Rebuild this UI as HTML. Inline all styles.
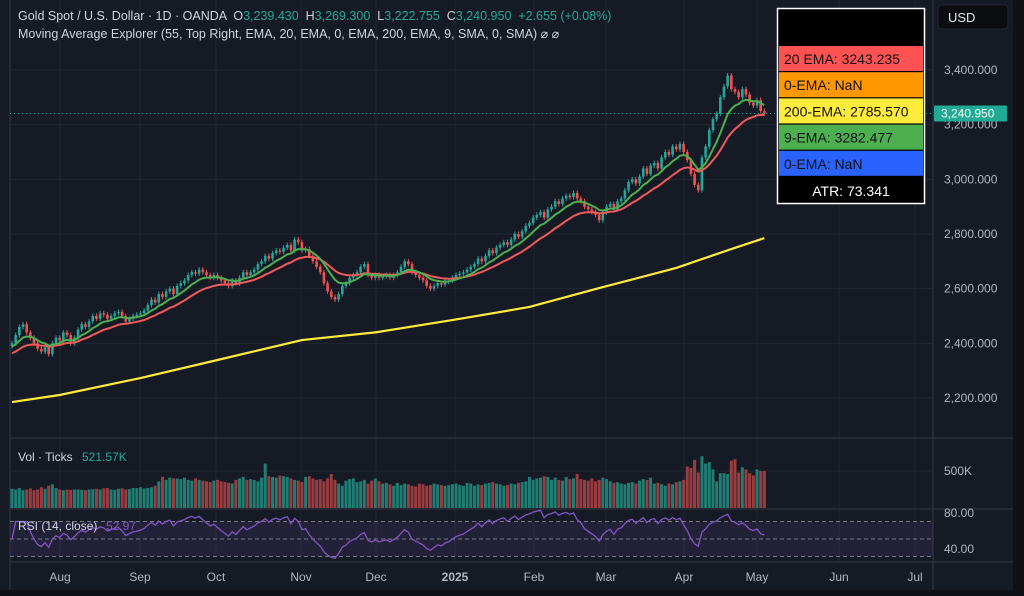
<!DOCTYPE html>
<html><head><meta charset="utf-8">
<style>
html,body{margin:0;padding:0;background:#0f1117;}
body{width:1024px;height:596px;overflow:hidden;font-family:"Liberation Sans",sans-serif;}
svg{display:block}
</style></head>
<body>
<svg id="chart" width="1024" height="596" xmlns="http://www.w3.org/2000/svg">
</svg>
<script>
const closes=[2400,2430,2460,2470,2440,2420,2400,2380,2370,2385,2360,2400,2420,
2410,2440,2430,2400,2420,2450,2470,2460,2480,2500,2490,2510,2505,2490,2500,2510,2515,2500,2480,2490,2500,2505,
2510,2520,2540,2560,2550,2580,2570,2590,2600,2580,2610,2620,2630,2650,2660,2655,2670,2660,2650,2640,2650,
2640,2630,2620,2610,2630,2620,2640,2660,2650,2660,2670,2690,2700,2720,2710,2730,2740,2735,2750,2760,2740,2780,2770,
2740,2745,2720,2700,2680,2660,2620,2590,2570,2560,2580,2610,2620,2640,2650,2660,2680,2690,2650,2640,
2650,2640,2645,2650,2640,2650,2660,2680,2700,2690,2660,2650,2640,2630,2610,2600,2610,2620,2615,2625,2630,
2640,2650,2655,2660,2670,2680,2690,2710,2700,2720,2740,2730,2750,2760,2770,2760,2780,2800,2790,2810,2830,
2840,2860,2870,2880,2860,2890,2900,2920,2910,2930,2940,2935,2950,2930,2920,2900,2890,2880,2870,
2850,2880,2900,2910,2890,2920,2930,2960,2990,3000,2985,3010,3040,3020,3050,3060,3040,3080,3100,3090,3120,
3110,3130,3100,3070,3020,2980,2960,3080,3120,3180,3220,3240,3300,3340,3380,3330,3320,3300,3330,3310,3280,
3270,3290,3250,3240.95];
const volumes=[260,250,270,240,250,265,240,250,280,260,300,320,270,
250,240,250,245,250,250,245,240,250,255,260,250,265,270,250,245,260,265,250,255,270,270,
280,265,270,280,300,360,420,380,410,400,400,390,410,380,370,400,380,370,360,350,370,
380,360,350,340,330,380,400,420,380,390,380,360,410,600,430,420,410,440,430,420,400,380,370,
350,420,430,400,380,390,360,400,460,380,330,300,370,390,400,350,360,380,330,370,
400,360,330,340,320,300,340,310,330,320,300,290,330,320,300,310,330,320,310,300,310,
320,330,310,300,340,330,300,320,310,330,340,350,330,320,300,310,330,320,340,350,360,
420,380,400,410,430,420,380,410,380,370,420,390,400,460,390,380,370,400,360,
380,410,390,360,340,350,330,320,340,350,330,370,390,380,410,330,340,320,300,330,320,
350,360,380,560,540,650,480,700,600,620,520,360,470,470,460,640,660,480,550,520,470,
440,520,500,500];
const timeLabels=["Aug","Sep","Oct","Nov","Dec","2025","Feb","Mar","Apr","May","Jun","Jul"];
const timeLabelX=[60,140,216,301,376,455,534,606,684,757,839,915];
const priceTicks=[3400,3200,3000,2800,2600,2400,2200];
const ema200Bars=[0,13,35,56,79,99,120,141,160,181,196,205];
const ema200Vals=[2185,2211,2273,2339,2412,2440,2485,2533,2602,2676,2745,2785];

const NS="http://www.w3.org/2000/svg";
const svg=document.getElementById('chart');
function el(tag,attrs,parent){const e=document.createElementNS(NS,tag);for(const k in attrs)e.setAttribute(k,attrs[k]);(parent||svg).appendChild(e);return e;}
const xBar=i=>12+i*3.67;
const yP=p=>70+(3400-p)*0.27333;
const yV=v=>508-v*37/500;
const yR=r=>539-(r-50)*0.875;
const fmt=n=>n.toLocaleString('en-US',{minimumFractionDigits:3,maximumFractionDigits:3});

let r=el('rect',{x:0,y:0,width:1013,height:590,fill:'#161a25'});

const grid=el('g',{stroke:'#222634','stroke-width':1});

priceTicks.forEach(p=>el('line',{x1:10,x2:933,y1:yP(p),y2:yP(p)},grid));
el('line',{x1:10,x2:933,y1:yV(500),y2:yV(500)},grid);
timeLabelX.forEach(x=>el('line',{x1:x,x2:x,y1:0,y2:562},grid));
const sep=el('g',{stroke:'#2a2e39','stroke-width':1.5});

el('line',{x1:10,x2:1013,y1:438,y2:438},sep);
el('line',{x1:10,x2:1013,y1:509,y2:509},sep);
el('line',{x1:10,x2:1013,y1:562,y2:562},sep);
el('line',{x1:933,x2:933,y1:0,y2:590},sep);
el('line',{x1:10,x2:10,y1:0,y2:590},sep);

const e2=el('polyline',{fill:'none',stroke:'#ffeb3b','stroke-width':2.2,points:ema200Bars.map((b,i)=>xBar(b)+','+yP(ema200Vals[i])).join(' ')});


const cg=el('g',{});

closes.forEach((c,i)=>{
  const o=i?closes[i-1]:c-10;
  const up=c>=o;const col=up?'#26a69a':'#ef5350';
  const hi=Math.max(o,c)+9, lo=Math.min(o,c)-9;
  const x=xBar(i);
  const w=el('line',{x1:x,x2:x,y1:yP(hi),y2:yP(lo),stroke:col,'stroke-width':1},cg);
  
  const top=yP(Math.max(o,c)),h=Math.max(1,yP(Math.min(o,c))-top);
  const b=el('rect',{x:x-1.3,y:top,width:2.6,height:h,fill:col},cg);
  
});
function ema(n,seed){let e=seed;return closes.map(c=>{e=e+(c-e)*2/(n+1);return e;});}
const e20=ema(20,2360),e9=ema(9,2385);
const l20=el('polyline',{fill:'none',stroke:'#f05a5a','stroke-width':2,points:e20.map((v,i)=>xBar(i)+','+yP(v)).join(' ')});

const l9=el('polyline',{fill:'none',stroke:'#4caf50','stroke-width':2,points:e9.map((v,i)=>xBar(i)+','+yP(v)).join(' ')});


const last=closes[closes.length-1];
const lp=el('line',{x1:10,x2:933,y1:yP(last),y2:yP(last),stroke:'#26a69a','stroke-width':1,'stroke-dasharray':'1 3'});


const vg=el('g',{});

volumes.forEach((v,i)=>{
  const o=i?closes[i-1]:closes[0]-10;const up=closes[i]>=o;
  const b=el('rect',{x:xBar(i)-1.5,y:yV(v),width:3,height:508-yV(v),fill:up?'#1f7d73':'#9a3d40'},vg);
  
});

const band=el('rect',{x:10,y:yR(70),width:923,height:yR(30)-yR(70),fill:'rgba(126,87,194,0.12)'});

[70,50,30].forEach(v=>{const d=el('line',{x1:10,x2:933,y1:yR(v),y2:yR(v),stroke:'#787b86','stroke-width':1,'stroke-dasharray':'4 3'});
});
let ag=0,al=0;const rsi=[];
closes.forEach((c,i)=>{if(!i){rsi.push(50);return;}const d=c-closes[i-1];const g=Math.max(d,0),l=Math.max(-d,0);
 if(i<=14){ag+=g/14;al+=l/14;}else{ag=(ag*13+g)/14;al=(al*13+l)/14;}
 rsi.push(al===0?70:100-100/(1+ag/al));});
const rl=el('polyline',{fill:'none',stroke:'#7e57c2','stroke-width':1.3,points:rsi.map((v,i)=>xBar(i)+','+yR(Math.max(25,Math.min(85,v)))).join(' ')});


function txt(x,y,s,attrs,name){const t=el('text',Object.assign({x:x,y:y,'font-size':12,fill:'#b2b5be'},attrs||{}));t.textContent=s;return t;}
priceTicks.forEach(p=>txt(944,yP(p)+4,p.toLocaleString('en-US')+'.000',{},'price-tick-label'));
txt(944,yV(500)+4,'500K',{},'volume-tick-label');
txt(944,517,'80.00',{},'rsi-tick-label');
txt(944,553,'40.00',{},'rsi-tick-label');
const pl=el('rect',{x:934,y:yP(last)-8,width:73,height:16,fill:'#22ab94',rx:1});

txt(941,yP(last)+4,fmt(last),{fill:'#ffffff'},'last-price-text');
const usd=el('rect',{x:938,y:5,width:70,height:24,rx:4,fill:'#0b0c10',stroke:'#23262f'});

txt(948,22,'USD',{fill:'#e6e6e6','font-size':13},'currency-text');
timeLabels.forEach((s,i)=>txt(timeLabelX[i],581,s,{'text-anchor':'middle','font-weight':s==='2025'?'bold':'normal'},'time-axis-label'));
const br=el('rect',{x:1013,y:0,width:11,height:596,fill:'#0f1117'});


const h1=txt(18,20,'',{fill:'#d1d4dc','font-size':12.5},'chart-title');
h1.innerHTML='Gold Spot / U.S. Dollar · 1D · OANDA  O<tspan fill="#22ab94">3,239.430</tspan>  H<tspan fill="#22ab94">3,269.300</tspan>  L<tspan fill="#22ab94">3,222.755</tspan>  C<tspan fill="#22ab94">3,240.950  +2.655 (+0.08%)</tspan>';
h1.setAttribute('xml:space','preserve');h1.style.whiteSpace='pre';
txt(18,38,'Moving Average Explorer (55, Top Right, EMA, 20, EMA, 0, EMA, 200, EMA, 9, SMA, 0, SMA)  ⌀  ⌀',{fill:'#d1d4dc','font-size':12.5},'indicator-title');
txt(18,461,'Vol · Ticks',{fill:'#d1d4dc','font-size':12},'volume-title');
txt(82,461,'521.57K',{fill:'#22ab94','font-size':12},'volume-value');
txt(18,530,'RSI (14, close)',{fill:'#d1d4dc','font-size':12},'rsi-title');
txt(106,530,'52.97',{fill:'#7e57c2','font-size':12},'rsi-value');

const lg=el('g',{});

const rb=el('rect',{x:777.5,y:8.5,width:147,height:195,fill:'#000000',stroke:'#ffffff','stroke-width':1.5},lg);

const rowsL=['20 EMA: 3243.235','0-EMA: NaN','200-EMA: 2785.570','9-EMA: 3282.477','0-EMA: NaN'];
const rowC=['#ff5252','#ff9800','#ffeb3b','#4caf50','#2962ff'];
rowsL.forEach((s,i)=>{const y=46+i*26.2;
 const rr=el('rect',{x:779,y:y,width:144,height:25,fill:rowC[i]},lg);
 
 const t=txt(784,y+18,s,{fill:'#111111','font-size':14},'legend-entry');lg.appendChild(t);});
const at=txt(851,196,'ATR: 73.341',{fill:'#ffffff','font-size':14,'text-anchor':'middle'},'atr-label');lg.appendChild(at);
</script>
</body></html>
